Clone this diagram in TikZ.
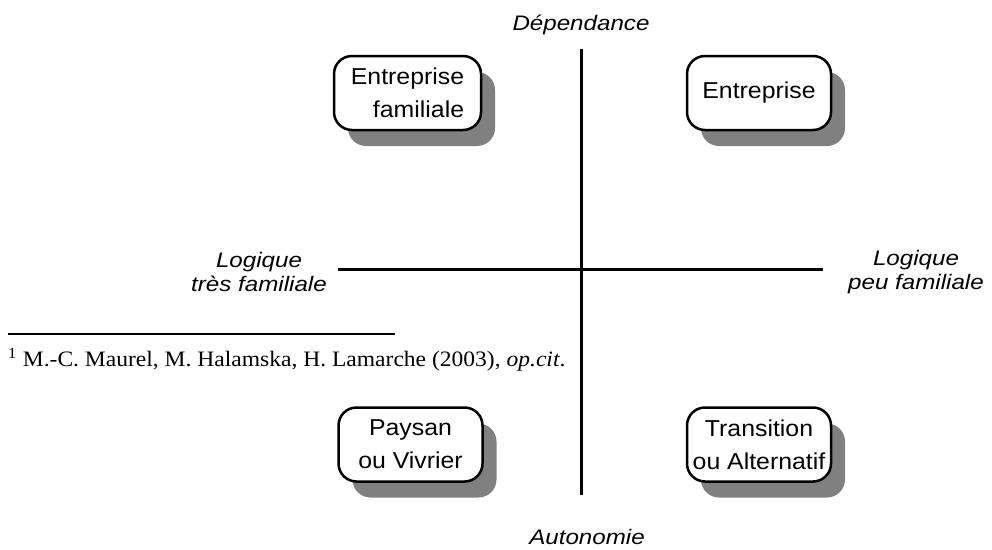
\documentclass[tikz,border=0pt]{standalone}
\usepackage{fontspec}
\setmainfont{Liberation Serif}
\newfontfamily\arialfont{Liberation Sans}
\usepackage{graphicx}
\usetikzlibrary{shadows}
\newcommand\xs[2][1.08]{\scalebox{#1}[1]{#2}}

\begin{document}
\begin{tikzpicture}[x=1pt,y=-1pt]
  \useasboundingbox (0,0) rectangle (992,549);

      % footnote
      \coordinate (fl) at (8,334);
      \coordinate (fr) at (395,334);
      \draw[line width=1.2pt] (fl) -- (fr);
      \node[anchor=base west, inner sep=0pt, font=\fontsize{22}{26}\selectfont] (fn) at (8,366)
        {\xs[1.07]{\textsuperscript{1} M.-C. Maurel, M. Halamska, H. Lamarche (2003), \textit{op.cit}.}};

      % axes
      \coordinate (top) at (581,49);
      \coordinate (bot) at (581,495);
      \coordinate (lft) at (338,269);
      \coordinate (rgt) at (823,269);
      \draw[line width=3pt] (top) -- (bot);
      \draw[line width=3pt] (lft) -- (rgt);

      \begin{scope}[every node/.style={draw, line width=2.5pt, fill=white, rounded corners=18pt,
          inner sep=0pt, minimum width=144pt, minimum height=74pt,
          drop shadow={shadow xshift=14pt, shadow yshift=-16pt, fill=gray, opacity=1},
          font=\arialfont\fontsize{23}{33}\selectfont}]
        \node[minimum width=147pt, align=right] (entfam) at (407.5,93) {\xs{Entreprise}\\\xs{familiale}};
        \node (ent) at (759,93) {\xs{Entreprise}};
        \node[align=center] (pay) at (410.5,444.5) {\xs{Paysan}\\\xs{ou Vivrier}};
        \node[align=center] (tra) at (759,444.5) {\xs{Transition}\\\xs{ou Alternatif}};
      \end{scope}

      \begin{scope}[every node/.style={inner sep=0pt, align=center,
          font=\arialfont\itshape\fontsize{21}{24}\selectfont}]
        \node[anchor=base] (dep) at (581,30) {\xs[1.15]{Dépendance}};
        \node[anchor=base] (aut) at (587,544) {\xs[1.15]{Autonomie}};
        \node (ltf) at (259,272) {\xs[1.15]{Logique}\\\xs[1.15]{très familiale}};
        \node (lpf) at (916,272) {\xs[1.15]{Logique}\\\xs[1.15]{peu familiale}};
      \end{scope}

    \end{tikzpicture}
\end{document}
